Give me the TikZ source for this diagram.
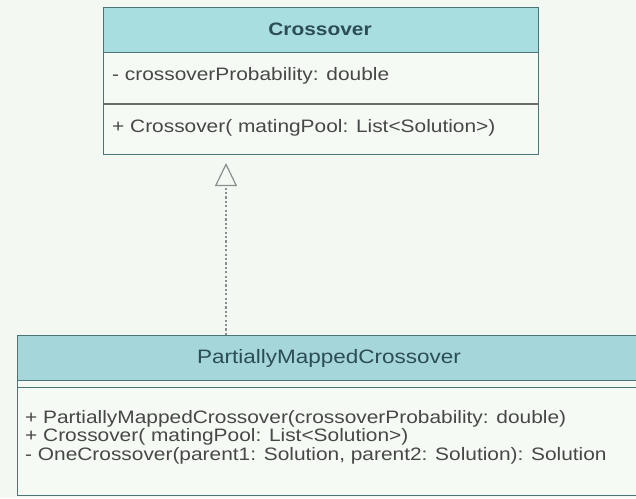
\documentclass[tikz,border=0pt]{standalone}
\usepackage{fontspec}
\setmainfont{Liberation Sans}[FakeStretch=1.16]
\usetikzlibrary{arrows.meta}
\definecolor{bgc}{HTML}{F3F9F2}
\definecolor{hdrA}{HTML}{A9DEE1}
\definecolor{hdrB}{HTML}{A4D6DA}
\definecolor{bodyc}{HTML}{F5FAF4}
\definecolor{edge}{HTML}{4A7677}
\definecolor{sepc}{HTML}{6B6B6B}
\definecolor{txt}{HTML}{474747}
\definecolor{htxt}{HTML}{2C4C58}
\definecolor{dashc}{HTML}{8A8E8E}
\tikzset{
  box/.style={draw=edge, line width=1.3pt, rectangle, inner sep=0pt, anchor=north west},
  hdrbox/.style={box, fill=hdrA},
  hdrboxb/.style={box, fill=hdrB},
  bodybox/.style={box, fill=bodyc},
  member/.style={anchor=west, inner sep=0pt, text=txt, font=\fontsize{18}{18.5}\selectfont, align=left},
  title/.style={inner sep=0pt, text=htxt},
  realize/.style={draw=dashc, line width=1.3pt, dash pattern=on 2.2pt off 2.2pt,
     -{Triangle[open, length=23pt, width=22pt, line width=1.2pt, sep=0pt]}},
}
\begin{document}
\begin{tikzpicture}[x=1pt,y=-1pt]
\useasboundingbox (0,0) rectangle (636,498);
\clip (0,0) rectangle (636,498);
\fill[bgc] (0,0) rectangle (636,498);

% Crossover class
\node[hdrbox, minimum width=435pt, minimum height=45pt] (ch) at (103,7) {};
\node[bodybox, minimum width=435pt, minimum height=51pt] (ca) at (103,52) {};
\node[bodybox, minimum width=435pt, minimum height=51pt] (cm) at (103,103) {};
\draw[sepc, line width=2pt] (ca.south west) -- (ca.south east);
\node[title, font=\fontsize{18}{18}\selectfont\bfseries] (cht) at (320,29.5) {Crossover};
\node[member] (cat) at (112,76) {- crossoverProbability: double};
\node[member] (cmt) at (112,128) {+ Crossover( matingPool: List<Solution>)};

% PartiallyMappedCrossover class
\node[hdrboxb, minimum width=640pt, minimum height=45pt] (ph) at (17,335) {};
\node[bodybox, minimum width=640pt, minimum height=7pt] (pa) at (17,380) {};
\node[bodybox, minimum width=640pt, minimum height=108pt] (pm) at (17,387) {};
\node[title, font=\fontsize{19.4}{19.4}\selectfont] (pht) at (329,358) {PartiallyMappedCrossover};
\node[member] (pmt) at (25,437) {+ PartiallyMappedCrossover(crossoverProbability: double)\\+ Crossover( matingPool: List<Solution>)\\- OneCrossover(parent1: Solution, parent2: Solution): Solution};

% realization
\coordinate (tip) at (226,163);
\draw[realize] (ph.north -| tip) -- (tip);
\end{tikzpicture}
\end{document}
